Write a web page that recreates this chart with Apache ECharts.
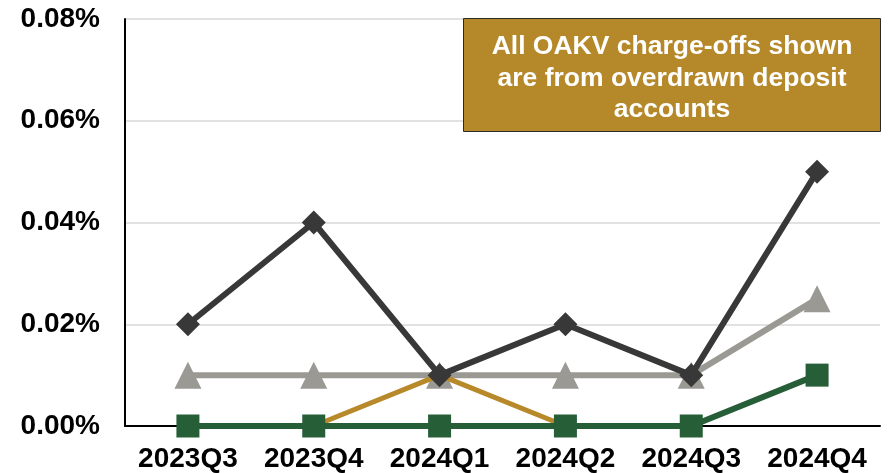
<!DOCTYPE html>
<html>
<head>
<meta charset="utf-8">
<script src="https://cdn.jsdelivr.net/npm/echarts@6/dist/echarts.min.js"></script>
<style>
  html, body { margin: 0; padding: 0; background: #fff; }
  #chart { width: 888px; height: 473px; }
</style>
</head>
<body>
<div id="chart"></div>
<script>
// values are in percent
const quarters = ['2023Q3', '2023Q4', '2024Q1', '2024Q2', '2024Q3', '2024Q4'];
const darkSeries = [0.02, 0.04, 0.01, 0.02, 0.01, 0.05];
const graySeries = [0.01, 0.01, 0.01, 0.01, 0.01, 0.025];
const goldSeries = [0, 0, 0.01, 0, 0, null];
const greenSeries = [0, 0, 0, 0, 0, 0.01];
const yTicks = [0, 0.02, 0.04, 0.06, 0.08];
const noteLines = ['All OAKV charge-offs shown', 'are from overdrawn deposit', 'accounts'];

const font = 'Liberation Sans, Arial, sans-serif';

let chart = echarts.init(document.getElementById('chart'));

function lineSeries(data, color, symbol, size, width, z){
    return {
        type: 'line',
        data: data,
        symbol: symbol,
        symbolSize: size,
        showSymbol: symbol !== 'none',
        z: z,
        lineStyle: { color: color, width: width },
        itemStyle: { color: color, opacity: 1 },
        emphasis: { disabled: true }
    };
}

chart.setOption({
    animation: false,
    backgroundColor: '#fff',
    grid: { left: 125, right: 8, top: 18, bottom: 47 },
    xAxis: {
        type: 'category',
        data: quarters,
        axisLine: { lineStyle: { color: '#000', width: 2 } },
        axisTick: { show: false },
        axisLabel: {
            color: '#000', fontFamily: font, fontWeight: 'bold', fontSize: 28, margin: 19,
            interval: 0, hideOverlap: false
        }
    },
    yAxis: {
        type: 'value',
        min: yTicks[0],
        max: yTicks[yTicks.length - 1],
        interval: 0.02,
        axisLine: { show: true, lineStyle: { color: '#000', width: 2 } },
        axisTick: { show: false },
        splitLine: { lineStyle: { color: '#d9d9d9', width: 1.5 } },
        axisLabel: {
            color: '#000', fontFamily: font, fontWeight: 'bold', fontSize: 28, margin: 25,
            lineHeight: 34, verticalAlign: 'middle', padding: [4, 0, 0, 0],
            formatter: v => v.toFixed(2) + '%'
        }
    },
    series: [
        lineSeries(graySeries, '#9b9993', 'triangle', 27, 6, 2),
        lineSeries(goldSeries, '#b8892a', 'none', 0, 5, 3),
        lineSeries(greenSeries, '#265e38', 'rect', 23, 6, 4),
        lineSeries(darkSeries, '#383838', 'diamond', 24, 6, 5)
    ],
    graphic: [
        {
            type: 'rect',
            left: 463, top: 18,
            shape: { width: 417, height: 113 },
            style: { fill: '#b5882a', stroke: '#2a2a2a', lineWidth: 1 },
            z: 10
        },
        {
            type: 'text',
            x: 672, y: 31,
            style: {
                text: noteLines.join('\n'),
                fill: '#fff',
                font: 'bold 26.5px ' + font,
                lineHeight: 31.5,
                align: 'center'
            },
            z: 11
        }
    ]
});
</script>
</body>
</html>
